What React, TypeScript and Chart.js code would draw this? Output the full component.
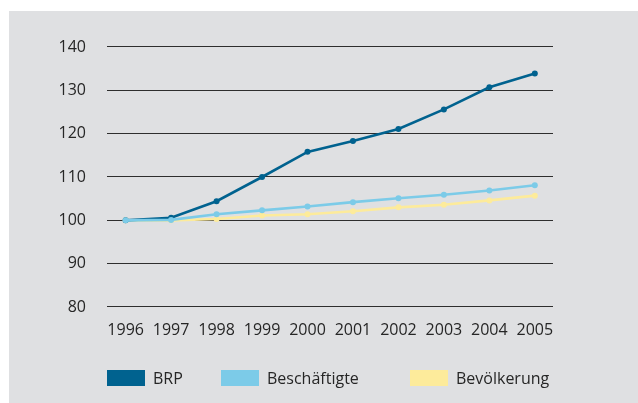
import React, { useEffect, useRef } from "react";
import { Chart, registerables } from "chart.js";

Chart.register(...registerables);

const years = [1996, 1997, 1998, 1999, 2000, 2001, 2002, 2003, 2004, 2005];
const yearLabels = years.map((y) => String(y));
const brp = [100, 100.6, 104.4, 110.0, 115.8, 118.3, 121.1, 125.6, 130.7, 133.9];
const beschaeftigte = [100, 100.1, 101.4, 102.3, 103.2, 104.2, 105.1, 105.9, 106.9, 108.1];
const bevoelkerung = [100, 100.0, 100.3, 101.1, 101.4, 102.1, 103.0, 103.6, 104.6, 105.7];
const seriesNames = ["BRP", "Beschäftigte", "Bevölkerung"];
const seriesColors = ["#00628f", "#7ccbe8", "#fdeb9b"];
const yTicks = [80, 90, 100, 110, 120, 130, 140];

const FONT = '"Open Sans", "Noto Sans", sans-serif';
const TEXT = "#262626";

const legendPlugin = {
  id: "customLegend",
  afterDraw(chart: any) {
    const ctx = chart.ctx;
    const left = chart.chartArea.left;
    const offsets = [0, 114, 303];
    const boxTop = 359;
    ctx.save();
    ctx.font = `16px ${FONT}`;
    ctx.textBaseline = "middle";
    ctx.textAlign = "left";
    seriesNames.forEach((name, i) => {
      const x = left + offsets[i];
      ctx.fillStyle = seriesColors[i];
      ctx.fillRect(x, boxTop, 38, 16);
      ctx.fillStyle = TEXT;
      ctx.fillText(name, x + 46, boxTop + 9);
    });
    ctx.restore();
  },
};

export default function App() {
  const ref = useRef<HTMLCanvasElement | null>(null);
  useEffect(() => {
    if (!ref.current) return;
    const mk = (vals: number[]) => vals.map((v, i) => ({ x: years[i], y: v }));
    const chart = new Chart(ref.current, {
      type: "line",
      data: {
        datasets: [
          { label: seriesNames[0], data: mk(brp), borderColor: seriesColors[0], backgroundColor: seriesColors[0], order: 2 },
          { label: seriesNames[1], data: mk(beschaeftigte), borderColor: seriesColors[1], backgroundColor: seriesColors[1], order: 1 },
          { label: seriesNames[2], data: mk(bevoelkerung), borderColor: seriesColors[2], backgroundColor: seriesColors[2], order: 3 },
        ].map((d) => ({
          ...d,
          borderWidth: 2.6,
          pointRadius: 3,
          pointBorderWidth: 0,
          tension: 0,
          fill: false,
        })),
      },
      options: {
        responsive: false,
        animation: false,
        layout: { padding: { left: 0, right: 85, top: 36, bottom: 56 } },
        plugins: { legend: { display: false }, tooltip: { enabled: false } },
        scales: {
          x: {
            type: "linear",
            min: 1995.59,
            max: 2005.4,
            grid: { display: false, drawTicks: false },
            border: { display: false },
            afterFit: (s: any) => {
              s.height = 40;
            },
            ticks: {
              stepSize: 1,
              includeBounds: false,
              autoSkip: false,
              maxRotation: 0,
              padding: 14,
              color: TEXT,
              font: { family: FONT, size: 16 },
              callback: (v: any) => {
                const i = years.indexOf(Number(v));
                return i >= 0 ? yearLabels[i] : "";
              },
            },
          },
          y: {
            min: yTicks[0],
            max: yTicks[yTicks.length - 1],
            grid: { color: "#2e2e2e", lineWidth: 1.1, drawTicks: false },
            border: { display: false },
            afterFit: (s: any) => {
              s.width = 98;
            },
            afterBuildTicks: (s: any) => {
              s.ticks = yTicks.map((v) => ({ value: v }));
            },
            ticks: {
              padding: 21,
              color: TEXT,
              font: { family: FONT, size: 16 },
              callback: (v: any) => String(v),
            },
          },
        },
      },
      plugins: [legendPlugin],
    } as any);
    return () => chart.destroy();
  }, []);
  return (
    <div
      style={{
        position: "absolute",
        left: 9,
        top: 11,
        width: 629,
        height: 392,
        background: "#dfe0e2",
      }}
    >
      <canvas ref={ref} width={629} height={392} style={{ display: "block" }} />
    </div>
  );
}
